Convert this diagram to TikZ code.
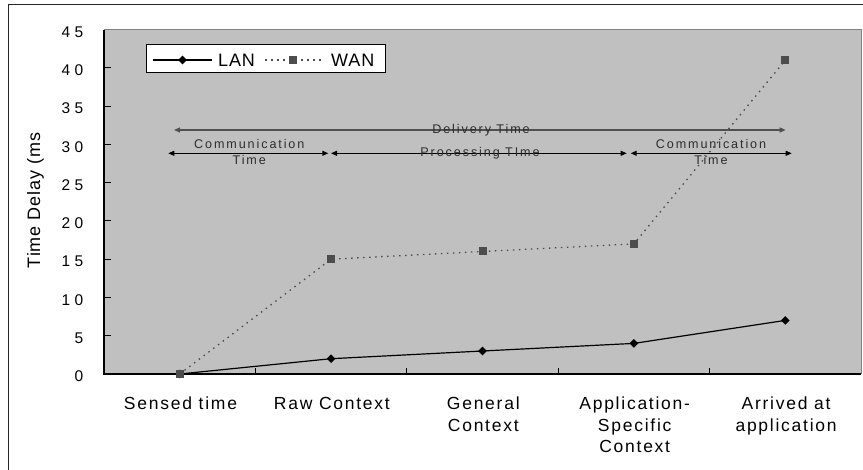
\documentclass[tikz,border=0pt]{standalone}
\usepackage{fontspec}
\setmainfont{Liberation Sans}
\newfontfamily\catfont[LetterSpace=10]{Liberation Sans}
\newfontfamily\arrfont[LetterSpace=15]{Liberation Sans}
\newfontfamily\labfont[LetterSpace=5]{Liberation Sans}
\usetikzlibrary{arrows.meta,shapes.geometric}
\definecolor{plotgray}{HTML}{C0C0C0}
\definecolor{framegray}{HTML}{808080}
\definecolor{wangray}{HTML}{4D4D4D}
\definecolor{delivgray}{HTML}{505050}
\definecolor{labgray}{HTML}{2E2E2E}
% two-digit axis numbers are set with a wide gap between the digits
\newcommand\twodig[2]{#1\kern4.5pt#2}
\begin{document}
\begin{tikzpicture}[x=1pt,y=-1pt,
  lanline/.style={black,line width=1.2pt},
  wanline/.style={wangray,line width=1.3pt,dash pattern=on 1.5pt off 4.5pt},
  lanmark/.style={diamond,fill=black,draw=none,inner sep=0pt,minimum width=8.8pt,minimum height=8.8pt},
  wanmark/.style={rectangle,fill=wangray,draw=none,inner sep=0pt,minimum size=8pt},
  ticklbl/.style={anchor=east,inner sep=0pt,font=\fontsize{15.5}{18}\selectfont},
  catlbl/.style={anchor=base,align=center,inner sep=0pt,font=\catfont\fontsize{17.5}{21.8}\selectfont},
  arrlbl/.style={anchor=base,align=center,inner sep=0pt,text=labgray,font=\arrfont\fontsize{12.6}{16.7}\selectfont},
  legtext/.style={anchor=west,inner sep=0pt,font=\labfont\fontsize{18}{20}\selectfont},
  spanarrow/.style={line width=1pt,{Triangle[length=6pt,width=5pt]}-{Triangle[length=6pt,width=5pt]}},
]
\useasboundingbox (0,0) rectangle (863,470);
\clip (0,0) rectangle (863,470);

% plot area
\fill[plotgray] (104,29.6) rectangle (861,374);
\draw[framegray,line width=1pt] (104,29.6) -- (861,29.6) -- (861,374);

% y ticks
\foreach \v in {5,10,...,40} {
  \draw[black,line width=0.9pt] (104,{374-\v*7.6533}) -- (111,{374-\v*7.6533});
}
% x ticks between categories
\foreach \k in {1,2,3,4} {
  \draw[black,line width=0.9pt] ({104+\k*151.4},374) -- ({104+\k*151.4},368);
}
% axes
\draw[black,line width=1.3pt] (104,29.6) -- (104,374) -- (861,374);

% tick labels
\foreach \v/\t in {0/0,5/5,10/\twodig10,15/\twodig15,20/\twodig20,25/\twodig25,30/\twodig30,35/\twodig35,40/\twodig40,45/\twodig45} {
  \node[ticklbl] (t\v) at (83.5,{374-\v*7.6533+2.5}) {\t};
}
\node[rotate=90,inner sep=0pt,font=\labfont\fontsize{18}{20}\selectfont] (ylab) at (35.5,200.5) {Time Delay (ms};

% data points
\coordinate (l1) at (179.7,374);
\coordinate (l2) at (331.1,358.7);
\coordinate (l3) at (482.5,351.0);
\coordinate (l4) at (633.9,343.4);
\coordinate (l5) at (785.3,320.4);
\coordinate (w1) at (179.7,374);
\coordinate (w2) at (331.1,259.2);
\coordinate (w3) at (482.5,251.5);
\coordinate (w4) at (633.9,243.9);
\coordinate (w5) at (785.3,60.2);

\draw[wanline] (w1) -- (w2) -- (w3) -- (w4) -- (w5);
\draw[lanline] (l1) -- (l2) -- (l3) -- (l4) -- (l5);
\foreach \i in {1,...,5} { \node[lanmark] (ml\i) at (l\i) {}; }
\foreach \i in {1,...,5} { \node[wanmark] (mw\i) at (w\i) {}; }

% time spans
\coordinate (dA) at (174,130);
\coordinate (dB) at (785.7,130);
\coordinate (cA) at (168.3,153.3);
\coordinate (cB) at (328.3,153.3);
\coordinate (pA) at (331,153.3);
\coordinate (pB) at (626.7,153.3);
\coordinate (qA) at (630.7,153.3);
\coordinate (qB) at (791.7,153.3);
\draw[spanarrow,delivgray,line width=1.3pt] (dA) -- (dB);
\draw[spanarrow] (cA) -- (cB);
\draw[spanarrow] (pA) -- (pB);
\draw[spanarrow] (qA) -- (qB);
% base anchors sit on the last line of each label
\node[arrlbl] (dlab) at (481,134) {Delivery Time};
\node[arrlbl] (plab) at (480,156.7) {Processing TIme};
\node[arrlbl] (clab1) at (249.3,165) {Communication\\Time};
\node[arrlbl] (clab2) at (711,165) {Communication\\Time};

% categories
\node[catlbl] (cat1) at (180.5,409.3) {Sensed time};
\node[catlbl] (cat2) at (331.9,409.3) {Raw Context};
\node[catlbl] (cat3) at (483.3,431.1) {General\\Context};
\node[catlbl] (cat4) at (634.7,452.9) {Application-\\Specific\\Context};
\node[catlbl] (cat5) at (786.1,431.1) {Arrived at\\application};

% legend
\draw[black,fill=white,line width=1pt] (146.7,45) rectangle (385.7,72.7);
\coordinate (la) at (153,60);
\coordinate (lb) at (212,60);
\coordinate (wa) at (265,60);
\coordinate (wb) at (322,60);
\draw[lanline] (la) -- (lb);
\node[lanmark] (legl) at (182.5,60) {};
\node[legtext] (legltxt) at (218,60) {LAN};
\draw[wanline] (wa) -- (wb);
\node[wanmark] (legw) at (293.3,60) {};
\node[legtext] (legwtxt) at (331,60) {WAN};

% outer frame
\draw[black!85,line width=1.3pt] (8.7,4.7) rectangle (900,520);
\end{tikzpicture}
\end{document}
